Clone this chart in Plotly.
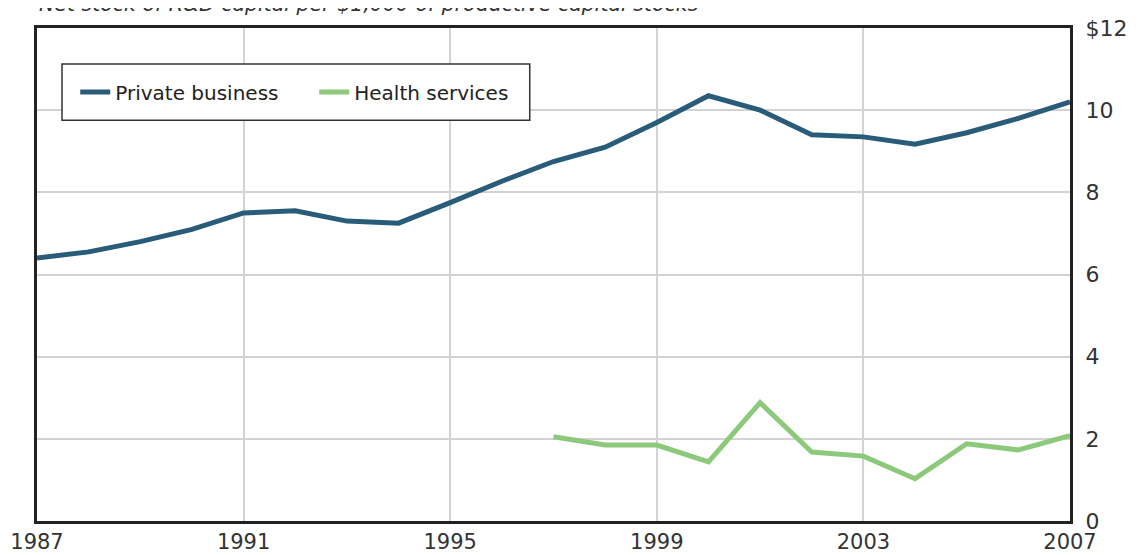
import plotly.graph_objects as go

years = list(range(1987, 2008))
private_business = [6.40, 6.55, 6.80, 7.10, 7.50, 7.55, 7.30, 7.25, 7.75, 8.27, 8.75,
                    9.10, 9.70, 10.35, 10.00, 9.40, 9.35, 9.17, 9.45, 9.80, 10.20]
health_years = list(range(1997, 2008))
health_services = [2.05, 1.85, 1.85, 1.44, 2.88, 1.68, 1.58, 1.03, 1.88, 1.73, 2.08]

x_ticks = [1987, 1991, 1995, 1999, 2003, 2007]
y_ticks = [0, 2, 4, 6, 8, 10, 12]
y_ticktext = ["0", "2", "4", "6", "8", "10", "$12"]
title_text = "Net stock of R&D capital per $1,000 of productive capital stocks"

fig = go.Figure()
fig.add_trace(go.Scatter(x=years, y=private_business, mode="lines", name="Private business",
                         line=dict(color="#285c78", width=5)))
fig.add_trace(go.Scatter(x=health_years, y=health_services, mode="lines", name="Health services",
                         line=dict(color="#8cc97a", width=5)))

tick_font = dict(family="DejaVu Sans", size=21, color="#333")

# page body has an 8px default margin, so the figure is sized to fit the window
fig.update_layout(
    width=1130, height=547,
    margin=dict(l=29, r=68, t=20, b=34),
    paper_bgcolor="white", plot_bgcolor="white",
    showlegend=True,
    legend=dict(orientation="h", x=0.037, y=0.870, xanchor="left", yanchor="middle",
                borderwidth=0, bgcolor="rgba(0,0,0,0)",
                font=dict(family="DejaVu Sans", size=20, color="#222"),
                entrywidthmode="pixels", entrywidth=194),
    xaxis=dict(range=[1987, 2007], tickvals=x_ticks, showgrid=True, gridcolor="#d3d3d3", gridwidth=1.5,
               showline=True, mirror=True, linecolor="#222", linewidth=3, ticks="",
               tickfont=tick_font, zeroline=False, automargin=False),
    yaxis=dict(range=[0, 12], tickvals=y_ticks, ticktext=y_ticktext, side="right",
               showgrid=True, gridcolor="#d3d3d3", gridwidth=1.5,
               showline=True, mirror=True, linecolor="#222", linewidth=3, ticks="outside",
               ticklen=8, tickcolor="rgba(0,0,0,0)",
               tickfont=dict(family="DejaVu Sans", size=22, color="#333"),
               zeroline=False, automargin=False),
)

# legend frame
fig.add_shape(type="rect", xref="paper", yref="paper", x0=0.0242, x1=0.477, y0=0.813, y1=0.927,
              line=dict(color="#333", width=1.5), fillcolor="white", layer="above")

fig.add_annotation(text="<i>" + title_text + "</i>", xref="paper", yref="paper", x=0.0, y=1,
                   xanchor="left", yanchor="middle", yshift=24, showarrow=False,
                   font=dict(family="DejaVu Sans", size=20.5, color="#333"))

fig.write_html("out.html")
